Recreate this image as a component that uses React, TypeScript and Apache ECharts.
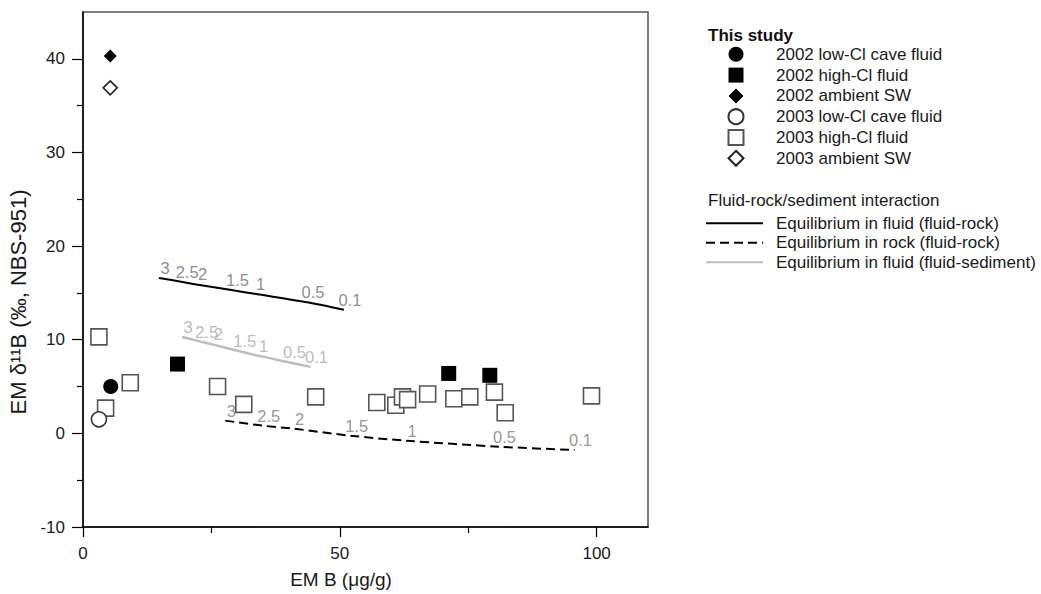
import React, { useEffect, useRef } from 'react';
import * as echarts from 'echarts';

// ---- Data ----
const lowCl2002 = [[5.4, 5.0]];
const highCl2002 = [[18.4, 7.4], [71.2, 6.4], [79.2, 6.2]];
const ambient2002 = [[5.3, 40.3]];
const lowCl2003 = [[3.1, 1.5]];
const highCl2003 = [
  [3.1, 10.3], [4.4, 2.7], [9.2, 5.4], [26.2, 5.0], [31.3, 3.1], [45.3, 3.9],
  [57.2, 3.3], [60.9, 3.0], [62.2, 3.9], [63.2, 3.6], [67.1, 4.2], [72.2, 3.7],
  [75.3, 3.9], [80.1, 4.4], [82.2, 2.2], [99.0, 4.0],
];
const ambient2003 = [[5.3, 36.9]];

const curveParams = ['3', '2.5', '2', '1.5', '1', '0.5', '0.1'];
const fluidRockFluidX = [14.8, 19.1, 22.1, 28.9, 33.4, 43.6, 50.8];
const fluidRockFluidY = [16.6, 16.2, 15.9, 15.3, 14.9, 14.0, 13.2];
const fluidRockRockX = [27.7, 35.0, 41.0, 52.1, 62.9, 80.9, 95.7];
const fluidRockRockY = [1.36, 0.82, 0.5, -0.25, -0.78, -1.42, -1.78];
const fluidSedX = [19.3, 22.9, 25.2, 30.3, 34.0, 40.0, 44.3];
const fluidSedY = [10.3, 9.8, 9.5, 8.8, 8.3, 7.6, 7.1];

const xMajorTicks = [0, 50, 100];
const xMinorTicks = [25, 75];
const yMajorTicks = [-10, 0, 10, 20, 30, 40];
const yMinorTicks = [-5, 5, 15, 25, 35];

const scatterNames = [
  '2002 low-Cl cave fluid',
  '2002 high-Cl fluid',
  '2002 ambient SW',
  '2003 low-Cl cave fluid',
  '2003 high-Cl fluid',
  '2003 ambient SW',
];
const lineNames = [
  'Equilibrium in fluid (fluid-rock)',
  'Equilibrium in rock (fluid-rock)',
  'Equilibrium in fluid (fluid-sediment)',
];

const FONT = 'Liberation Sans, Arial, Helvetica, sans-serif';

function pairs(xs: number[], ys: number[]) {
  return xs.map((x, i) => [x, ys[i]]);
}
function labelled(xs: number[], ys: number[]) {
  return xs.map((x, i) => [x, ys[i], curveParams[i]]);
}

function labelSeries(name: string, xs: number[], ys: number[], color: string) {
  return {
    type: 'scatter',
    name,
    data: labelled(xs, ys),
    symbol: 'circle',
    symbolSize: 1,
    itemStyle: { color: 'rgba(0,0,0,0)' },
    silent: true,
    z: 3,
    label: {
      show: true,
      position: 'inside',
      offset: [6, -10],
      formatter: (p: any) => p.value[2],
      color,
      fontSize: 16.5,
      fontFamily: FONT,
    },
  };
}

export default function App() {
  const ref = useRef<HTMLDivElement>(null);

  useEffect(() => {
    if (!ref.current) return;
    const chart = echarts.init(ref.current, undefined, { renderer: 'svg' });

    const openStyle = (c: string) => ({ color: '#ffffff', borderColor: c, borderWidth: 1.6, opacity: 1 });
    const filledStyle = { color: '#000000', opacity: 1 };

    const option: any = {
      animation: false,
      backgroundColor: '#ffffff',
      textStyle: { fontFamily: FONT },
      grid: {
        left: 83,
        right: 393,
        top: 12,
        bottom: 67,
        containLabel: false,
        outerBoundsMode: 'none',
        show: true,
        borderColor: '#555555',
        borderWidth: 1.5,
        backgroundColor: 'transparent',
      },
      xAxis: [
        {
          type: 'value',
          min: 0,
          max: 110,
          interval: 50,
          position: 'bottom',
          axisLine: { onZero: false, lineStyle: { color: '#000', width: 1.5 } },
          axisTick: { show: true, length: 10, customValues: xMajorTicks, lineStyle: { color: '#000', width: 1.2 } },
          axisLabel: {
            customValues: xMajorTicks,
            formatter: (v: number) => (v % 50 === 0 ? String(v) : ''),
            fontSize: 17,
            color: '#1a1a1a',
            margin: 18,
            fontFamily: FONT,
          },
          splitLine: { show: false },
          name: 'EM B (μg/g)',
          nameLocation: 'middle',
          nameGap: 43,
          nameTextStyle: { fontSize: 19, color: '#1a1a1a', padding: [0, 49, 0, 0], fontFamily: FONT },
        },
        {
          type: 'value',
          min: 0,
          max: 110,
          interval: 50,
          position: 'bottom',
          axisLine: { show: false, onZero: false },
          axisTick: { show: true, length: 6, customValues: xMinorTicks, lineStyle: { color: '#000', width: 1.2 } },
          axisLabel: { show: false },
          splitLine: { show: false },
        },
      ],
      yAxis: [
        {
          type: 'value',
          min: -10,
          max: 45,
          interval: 10,
          position: 'left',
          axisLine: { show: true, onZero: false, lineStyle: { color: '#000', width: 1.5 } },
          axisTick: { show: true, length: 11, customValues: yMajorTicks, lineStyle: { color: '#000', width: 1.2 } },
          axisLabel: {
            customValues: yMajorTicks,
            formatter: (v: number) => (v % 10 === 0 ? String(v) : ''),
            fontSize: 17,
            color: '#1a1a1a',
            margin: 18,
            fontFamily: FONT,
          },
          splitLine: { show: false },
          name: 'EM δ¹¹B (‰, NBS-951)',
          nameLocation: 'middle',
          nameGap: 47,
          nameTextStyle: { fontSize: 22, color: '#1a1a1a', padding: [0, 65, 0, 0], fontFamily: FONT },
        },
        {
          type: 'value',
          min: -10,
          max: 45,
          interval: 10,
          position: 'left',
          axisLine: { show: false, onZero: false },
          axisTick: { show: true, length: 6, customValues: yMinorTicks, lineStyle: { color: '#000', width: 1.2 } },
          axisLabel: { show: false },
          splitLine: { show: false },
        },
      ],
      legend: [
        {
          data: scatterNames,
          orient: 'vertical',
          left: 727.5,
          top: 45.8,
          padding: 0,
          itemWidth: 15,
          itemHeight: 15,
          itemGap: 3.8,
          selectedMode: false,
          textStyle: {
            fontSize: 17,
            color: '#1a1a1a',
            fontFamily: FONT,
            lineHeight: 15,
            padding: [0, 0, 0, 27.5],
          },
        },
        {
          data: lineNames,
          orient: 'vertical',
          left: 705,
          top: 214.7,
          padding: 0,
          itemWidth: 57,
          itemHeight: 15,
          itemGap: 2.5,
          selectedMode: false,
          itemStyle: { color: 'rgba(0,0,0,0)', borderColor: 'rgba(0,0,0,0)', borderWidth: 0 },
          textStyle: {
            fontSize: 17,
            color: '#1a1a1a',
            fontFamily: FONT,
            lineHeight: 15,
            padding: [0, 0, 0, 8],
          },
        },
      ],
      graphic: [
        {
          type: 'text',
          left: 708,
          top: 27,
          style: { text: 'This study', font: `bold 17px ${FONT}`, fill: '#111' },
        },
        {
          type: 'text',
          left: 708,
          top: 192,
          style: { text: 'Fluid-rock/sediment interaction', font: `17px ${FONT}`, fill: '#1a1a1a' },
        },
      ],
      series: [
        {
          type: 'line',
          name: lineNames[0],
          data: pairs(fluidRockFluidX, fluidRockFluidY),
          smooth: 0.3,
          symbol: 'none',
          showSymbol: false,
          lineStyle: { color: '#000', width: 2 },
          itemStyle: { color: '#000' },
          z: 2,
        },
        {
          type: 'line',
          name: lineNames[1],
          data: pairs(fluidRockRockX, fluidRockRockY),
          smooth: 0.3,
          symbol: 'none',
          showSymbol: false,
          lineStyle: { color: '#000', width: 2, type: [9, 5] },
          itemStyle: { color: '#000' },
          z: 2,
        },
        {
          type: 'line',
          name: lineNames[2],
          data: pairs(fluidSedX, fluidSedY),
          smooth: 0.3,
          symbol: 'none',
          showSymbol: false,
          lineStyle: { color: '#bdbdbd', width: 2.5 },
          itemStyle: { color: '#bdbdbd' },
          z: 2,
        },
        labelSeries('params-fluid-rock-fluid', fluidRockFluidX, fluidRockFluidY, '#6e6e6e'),
        labelSeries('params-fluid-rock-rock', fluidRockRockX, fluidRockRockY, '#807a76'),
        labelSeries('params-fluid-sediment', fluidSedX, fluidSedY, '#aaaaaa'),
        {
          type: 'scatter',
          name: scatterNames[4],
          data: highCl2003,
          symbol: 'rect',
          symbolSize: 16,
          itemStyle: openStyle('#555555'),
          z: 4,
        },
        {
          type: 'scatter',
          name: scatterNames[3],
          data: lowCl2003,
          symbol: 'circle',
          symbolSize: 15,
          itemStyle: openStyle('#333333'),
          z: 4,
        },
        {
          type: 'scatter',
          name: scatterNames[5],
          data: ambient2003,
          symbol: 'diamond',
          symbolSize: 14,
          itemStyle: openStyle('#222222'),
          z: 4,
        },
        {
          type: 'scatter',
          name: scatterNames[0],
          data: lowCl2002,
          symbol: 'circle',
          symbolSize: 15,
          itemStyle: filledStyle,
          z: 5,
        },
        {
          type: 'scatter',
          name: scatterNames[1],
          data: highCl2002,
          symbol: 'rect',
          symbolSize: 15,
          itemStyle: filledStyle,
          z: 5,
        },
        {
          type: 'scatter',
          name: scatterNames[2],
          data: ambient2002,
          symbol: 'diamond',
          symbolSize: 13,
          itemStyle: filledStyle,
          z: 5,
        },
      ],
    };

    chart.setOption(option);
    return () => {
      chart.dispose();
    };
  }, []);

  return (
    <div
      ref={ref}
      style={{ position: 'fixed', left: 0, top: 0, width: 1041, height: 594, background: '#fff' }}
    />
  );
}
